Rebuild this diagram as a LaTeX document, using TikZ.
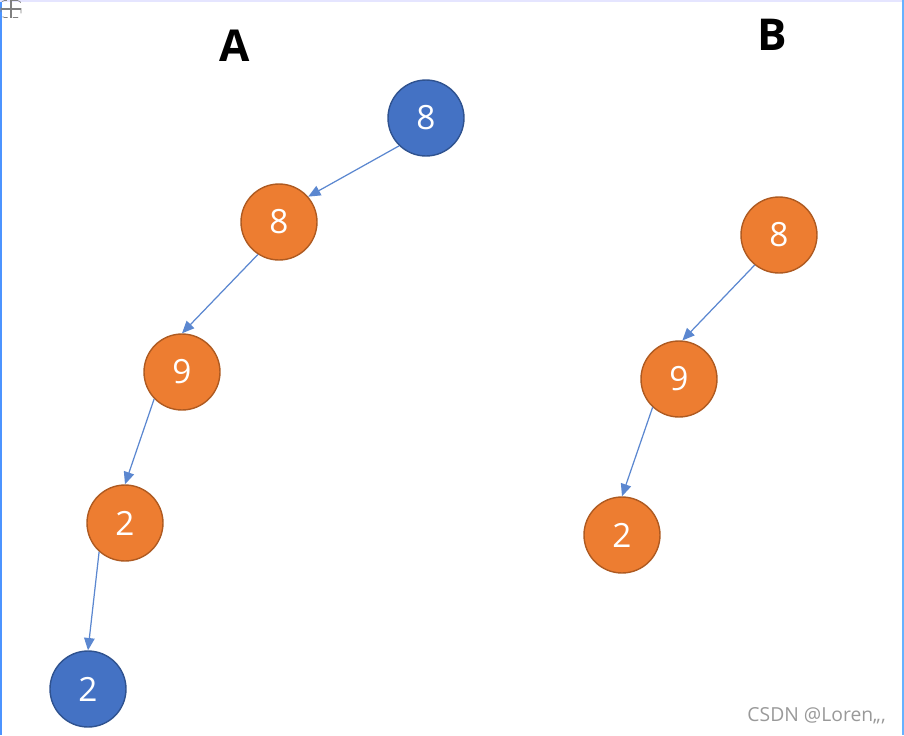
\documentclass[tikz,border=0pt]{standalone}
\usepackage{fontspec}
\setmainfont{Open Sans}
\usepackage{tikz}
\usetikzlibrary{positioning,arrows.meta}
\definecolor{nblue}{HTML}{4472C4}
\definecolor{nblueline}{HTML}{2F528F}
\definecolor{norange}{HTML}{ED7D31}
\definecolor{norangeline}{HTML}{AE5A21}
\definecolor{linkblue}{HTML}{5B87D0}
\newcommand{\num}[1]{\fontsize{19}{22}\selectfont\textcolor{white}{#1}}

\begin{document}
\begin{tikzpicture}[x=0.02cm,y=-0.02cm]
  \tikzset{
    bluenode/.style={circle,minimum size=1.52cm,inner sep=0pt,fill=nblue,draw=nblueline,line width=0.8pt},
    orangenode/.style={circle,minimum size=1.52cm,inner sep=0pt,fill=norange,draw=norangeline,line width=0.8pt},
    link/.style={-{Triangle[length=7pt,width=6pt]},draw=linkblue,line width=0.7pt}
  }
  \useasboundingbox (0,0) rectangle (904,735);
  % frame of the screenshot
  \draw [line width=1.2pt,color=blue!60!cyan!70] (1,0) -- (1,735);
  \draw [line width=0.6pt,color=blue!10] (0,1) -- (904,1);
  \draw [line width=0.8pt,color=blue!50!cyan!60] (903,0) -- (903,735);
  % handle icon
  \node (handle) [draw=gray,dashed,rounded corners=2pt,minimum width=0.4cm,minimum height=0.34cm,inner sep=0pt] at (11,9) {};
  \draw [gray,line width=0.6pt] (handle.north) -- (handle.south);
  \draw [gray,line width=0.6pt] (handle.west) -- (handle.east);

  % titles
  \node (titleA) at (235,46) {\fontsize{25}{30}\selectfont\bfseries A};
  \node (titleB) at (772,35) {\fontsize{25}{30}\selectfont\bfseries B};

  % tree A
  \node (a8top) [bluenode] at (426,118) {\num{8}};
  \node (a8) [orangenode] at (279,222) {\num{8}};
  \node (a9) [orangenode] at (182,372) {\num{9}};
  \node (a2) [orangenode] at (125,523) {\num{2}};
  \node (a2bot) [bluenode] at (88,689) {\num{2}};

  % tree B
  \node (b8) [orangenode] at (779,235) {\num{8}};
  \node (b9) [orangenode] at (679,379) {\num{9}};
  \node (b2) [orangenode] at (622,535) {\num{2}};

  \draw [link] (a8top.226) -- (a8.41);
  \draw [link] (a8.237) -- (a9.north);
  \draw [link] (a9.224) -- (a2.north);
  \draw [link] (a2.228) -- (a2bot.north);

  \draw [link] (b8.231) -- (b9.85);
  \draw [link] (b9.227) -- (b2.north);

  % watermark
  \node (mark) [anchor=east,text=gray!80] at (892,716) {\fontsize{11}{13}\selectfont CSDN @Loren,,,};
\end{tikzpicture}
\end{document}
